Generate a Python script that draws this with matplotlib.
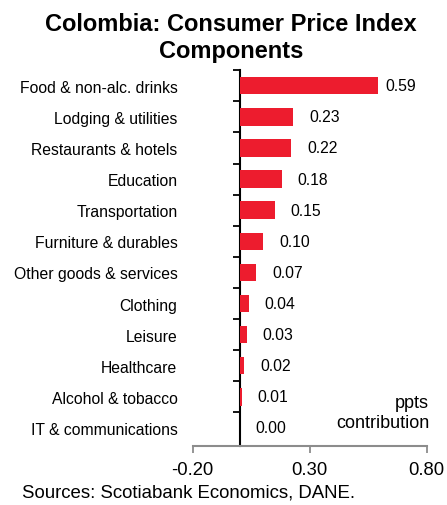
import matplotlib.pyplot as plt
import numpy as np

plt.rcParams['font.family'] = ['Liberation Sans', 'DejaVu Sans']

# data
categories = ['Food & non-alc. drinks', 'Lodging & utilities', 'Restaurants & hotels',
              'Education', 'Transportation', 'Furniture & durables',
              'Other goods & services', 'Clothing', 'Leisure', 'Healthcare',
              'Alcohol & tobacco', 'IT & communications']
values = [0.59, 0.23, 0.22, 0.18, 0.15, 0.10, 0.07, 0.04, 0.03, 0.02, 0.01, 0.00]
xticks = [-0.20, 0.30, 0.80]

red = '#ED1C2E'

fig = plt.figure(figsize=(4.47, 5.06), dpi=100)
ax = fig.add_axes([0.4311, 0.1172, 0.5235, 0.7421])

y = np.arange(len(categories))
ax.barh(y, values, height=0.56, color=red)

ax.set_xlim(-0.2, 0.8)
ax.set_ylim(11.57, -0.5)

# category labels sit at the low end of the axis
ax.set_yticks(y, categories, fontsize=11.3)
ax.tick_params(axis='y', length=0, pad=11)
ax.spines['left'].set_visible(False)
ax.spines['top'].set_visible(False)
ax.spines['right'].set_visible(False)

# vertical axis line at zero with ticks between categories
sec = ax.secondary_yaxis(0.2)
sec.set_yticks(np.arange(-0.5, len(categories) - 0.5, 1.0), [''] * len(categories))
sec.tick_params(axis='y', length=5, width=1.3, direction='out', color='black')
sec.spines['left'].set_linewidth(1.5)
sec.spines['left'].set_color('black')

ax.set_xticks(xticks, [f'{v:.2f}' for v in xticks], fontsize=13.3)
ax.tick_params(axis='x', length=5, width=1.3, color='#8c8c8c', pad=6)
ax.spines['bottom'].set_color('#8c8c8c')
ax.spines['bottom'].set_linewidth(1.5)

# value labels
for yi, v in zip(y, values):
    off = 8 if v > 0.5 else 16
    ax.annotate(f'{v:.2f}', (v, yi), xytext=(off * 0.72, 0), textcoords='offset points',
                ha='left', va='center', fontsize=11.3)

ax.text(1.01, 0.088, 'ppts\ncontribution', transform=ax.transAxes, ha='right',
        va='center', multialignment='right', fontsize=13, linespacing=1.25)

fig.text(0.517, 0.9387, 'Colombia: Consumer Price Index', ha='center', va='baseline',
         fontsize=17, fontweight='bold')
fig.text(0.517, 0.886, 'Components', ha='center', va='baseline',
         fontsize=17, fontweight='bold')

fig.text(0.049, 0.016, 'Sources: Scotiabank Economics, DANE.', ha='left', va='baseline',
         fontsize=13.4)

fig.savefig('out.png', dpi=100)
